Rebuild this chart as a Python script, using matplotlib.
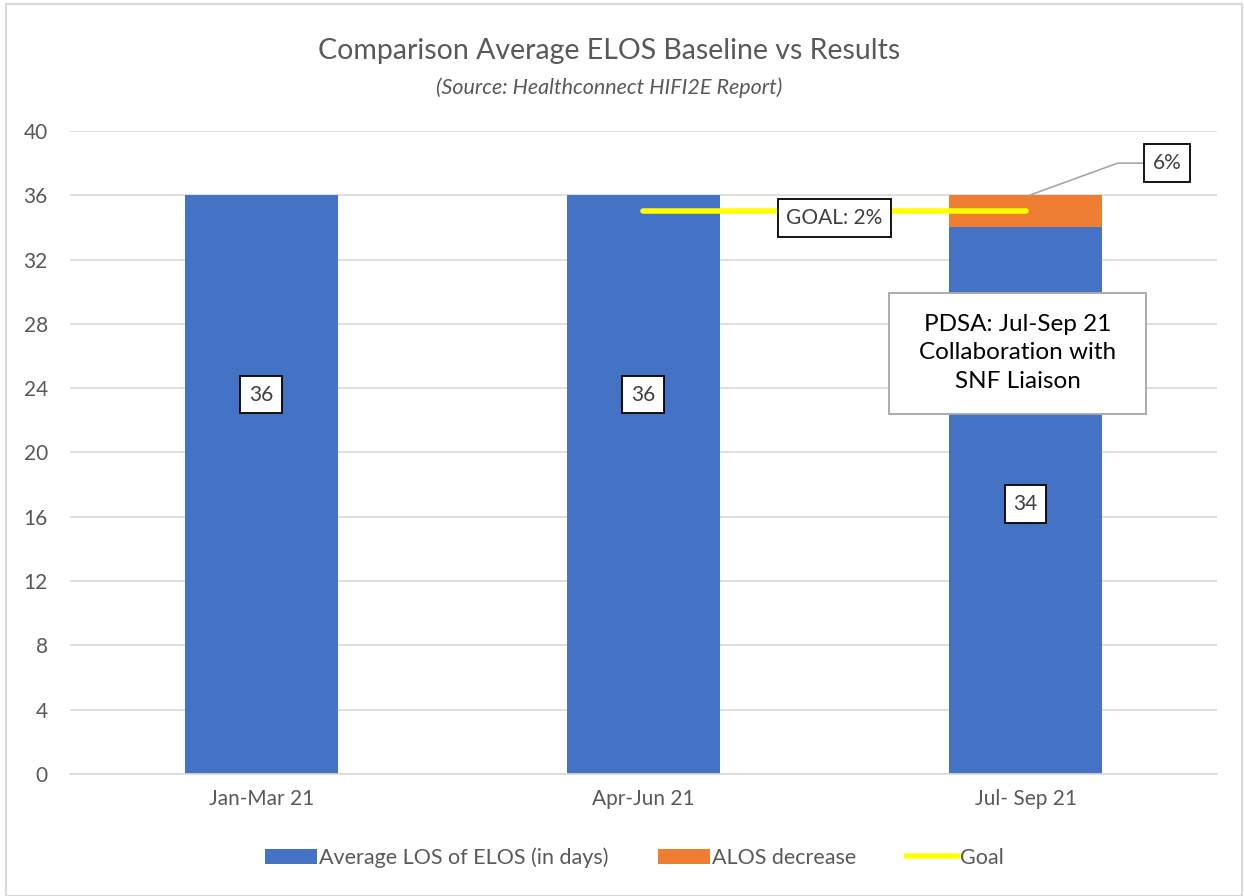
import matplotlib
matplotlib.use("Agg")
import matplotlib.pyplot as plt
import numpy as np
from matplotlib.patches import Rectangle

plt.rcParams['font.family'] = ['Lato', 'DejaVu Sans']

categories = ["Jan-Mar 21", "Apr-Jun 21", "Jul- Sep 21"]
avg_los = [36, 36, 34]
alos_decrease = [0, 0, 2]
goal = [np.nan, 35, 35]
bar_labels = ["36", "36", "34"]
bar_label_y = [23.6, 23.6, 16.8]
decrease_label = "6%"
goal_label = "GOAL: 2%"
pdsa_text = "PDSA: Jul-Sep 21\nCollaboration with\nSNF Liaison"
yticks = list(range(0, 41, 4))

blue = "#4472C4"
orange = "#ED7D31"
yellow = "#FFFF00"
txt = "#595959"

fig = plt.figure(figsize=(12.44, 8.96), dpi=100)
fig.patches.append(Rectangle((0.005, 0.0), 0.993, 0.995, transform=fig.transFigure,
                             fill=False, edgecolor="#d9d9d9", linewidth=1.5))
ax = fig.add_axes([0.0563, 0.1362, 0.9217, 0.7176])

x = np.arange(len(categories))
b1 = ax.bar(x, avg_los, width=0.4, color=blue, label="Average LOS of ELOS (in days)", zorder=2)
b2 = ax.bar(x, alos_decrease, width=0.4, bottom=avg_los, color=orange, label="ALOS decrease", zorder=2)
l1, = ax.plot(x, goal, color=yellow, linewidth=4, solid_capstyle='round', label="Goal", zorder=3)

ax.set_xlim(-0.5, 2.5)
ax.set_ylim(0, 40)
ax.set_yticks(yticks)
ax.set_xticks(x)
ax.set_xticklabels(categories)
ax.tick_params(axis='both', length=0, labelsize=15, colors=txt)
ax.tick_params(axis='y', pad=16)
ax.tick_params(axis='x', pad=11)
ax.grid(axis='y', color="#d9d9d9", linewidth=1.2, zorder=0)
ax.set_axisbelow(True)
for s in ["top", "right", "left"]:
    ax.spines[s].set_visible(False)
ax.spines["bottom"].set_color("#d9d9d9")
ax.spines["bottom"].set_linewidth(1.2)

box = dict(boxstyle="square,pad=0.42", facecolor="white", edgecolor="black", linewidth=1.3)
for xi, lab, ly in zip(x, bar_labels, bar_label_y):
    ax.text(xi, ly, lab, ha="center", va="center", fontsize=15, color="#404040", bbox=box, zorder=5)

ax.text(1.5, 34.6, goal_label, ha="center", va="center", fontsize=15, color="#404040", bbox=box, zorder=5)

ax.annotate(decrease_label, xy=(2.01, 36), xytext=(2.37, 38.0), ha="center", va="center",
            fontsize=15, color="#404040", bbox=box, zorder=5,
            arrowprops=dict(arrowstyle="-", color="#a6a6a6", linewidth=1.2,
                            connectionstyle="angle,angleA=0,angleB=20,rad=0", shrinkA=0, shrinkB=0))

# PDSA callout box
ax.add_patch(Rectangle((1.644, 22.4), 0.67, 7.53, facecolor="white", edgecolor="#a6a6a6",
                       linewidth=1.3, zorder=5))
ax.text(1.979, 26.2, pdsa_text, ha="center", va="center", fontsize=17.5, color="black",
        linespacing=1.45, zorder=6)

fig.text(0.49, 0.943, "Comparison Average ELOS Baseline vs Results", ha="center", va="center",
         fontsize=20.5, color=txt)
fig.text(0.49, 0.902, "(Source: Healthconnect HIFI2E Report)", ha="center", va="center",
         fontsize=15.5, color=txt, style="italic")

fig.legend([b1, b2, l1], ["Average LOS of ELOS (in days)", "ALOS decrease", "Goal"],
           loc="center", bbox_to_anchor=(0.51, 0.043), ncol=3, frameon=False, fontsize=15.5,
           labelcolor=txt, handlelength=2.4, handleheight=0.7, columnspacing=2.3, handletextpad=0.1)

fig.savefig("out.png", dpi=100)
